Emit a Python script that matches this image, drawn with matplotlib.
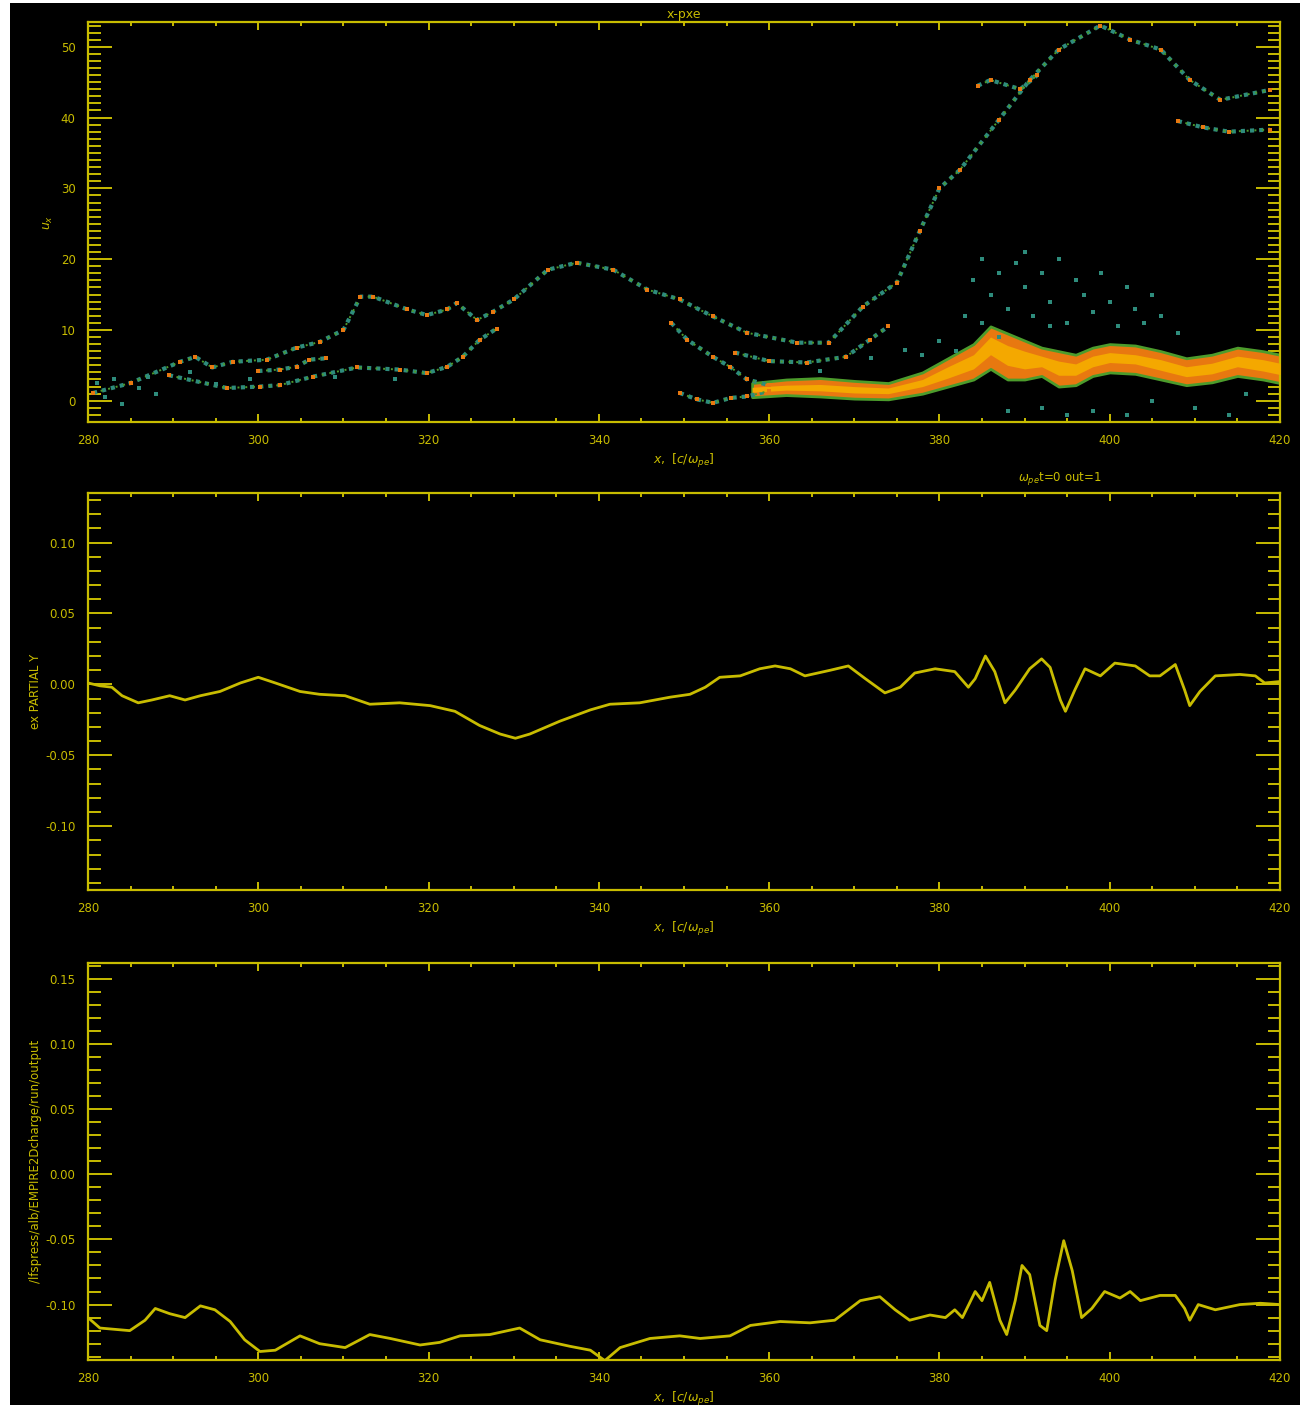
import numpy as np
import matplotlib.pyplot as plt
from matplotlib.patches import Rectangle
from matplotlib.ticker import MultipleLocator

plt.rc('font', family='DejaVu Sans', size=9)

YEL = '#c8bc00'
TEAL = '#2e8c7c'
GRN = '#4c9c2c'
ORG = '#e87810'
GOLD = '#f4a800'

# phase space x - pxe : particle tracks (x, u)
track_main = [(280.6, 1.1), (285, 2.5), (290.8, 5.5), (292.6, 6.2), (294.6, 4.7), (297, 5.5),
              (301, 5.8), (304.5, 7.5), (307.2, 8.3), (310, 10), (312, 14.7), (313.5, 14.7),
              (317.5, 12.9), (319.8, 12.1), (322.2, 12.9), (323.3, 13.8), (325.7, 11.4),
              (327.6, 12.6), (330, 14.3), (334, 18.5), (337.4, 19.5), (341.7, 18.5),
              (345.7, 15.7), (349.5, 14.3), (353.4, 11.9), (357.4, 9.6), (363.3, 8.2),
              (367, 8.2), (371, 13.3), (375, 16.7), (377.7, 24), (380, 30), (382.4, 32.6),
              (387, 39.7), (390.6, 45.3), (394, 49.6), (398.9, 53), (402.4, 51),
              (406, 49.6), (409.4, 45.3), (413, 42.5), (418.8, 43.9)]
track_low = [(289.5, 3.6), (296.3, 1.8), (300.2, 2.0), (302.5, 2.2), (306.4, 3.4),
             (311.6, 4.7), (316.6, 4.4), (319.8, 3.9), (322.2, 4.8), (324, 6.2),
             (326, 8.6), (328, 10.2)]
track_mid = [(300, 4.2), (302.5, 4.4), (304.5, 4.8), (306, 5.8), (308, 6.0)]
track_fall = [(348.5, 11), (350.4, 8.6), (353.4, 6.2), (355.4, 4.8), (357.4, 3.0), (360, 2.2)]
track_inner = [(356, 6.8), (360, 5.6), (364.4, 5.4), (369, 6.2), (371.8, 8.6), (374, 10.5)]
track_base = [(349.5, 1.1), (351.5, 0.2), (353.4, -0.3), (355.5, 0.4), (357.4, 0.6), (360, 1.4)]
track_upper = [(408, 39.5), (411, 38.6), (414, 38.0), (418.8, 38.3)]
track_side = [(384.5, 44.5), (386, 45.3), (389.5, 44.0), (391.5, 46.0)]

# dense electron band
band_x = [358, 362, 366, 370, 374, 378, 381, 384, 386, 388, 390, 392, 394, 396, 398, 400,
          403, 406, 409, 412, 415, 418, 420]
band_lo = [0.5, 0.8, 0.6, 0.3, 0.2, 1.0, 2.0, 3.0, 4.5, 3.0, 3.0, 3.5, 2.0, 2.2, 3.5, 4.0,
           3.8, 3.0, 2.2, 2.6, 3.5, 3.0, 2.5]
band_hi = [2.5, 3.0, 3.2, 2.8, 2.5, 4.0, 6.0, 8.0, 10.5, 9.5, 8.5, 7.5, 7.0, 6.5, 7.5, 8.0,
           7.8, 7.0, 6.0, 6.5, 7.5, 7.0, 6.5]
core_lo = [1.2, 1.5, 1.4, 1.1, 1.0, 2.0, 3.2, 4.5, 6.5, 5.0, 4.5, 4.8, 3.6, 3.6, 4.8, 5.4,
           5.2, 4.3, 3.4, 3.8, 4.8, 4.2, 3.7]
core_hi = [1.9, 2.2, 2.3, 2.0, 1.8, 3.0, 4.8, 6.5, 9.0, 7.8, 7.0, 6.3, 5.6, 5.2, 6.3, 6.8,
           6.5, 5.8, 4.8, 5.3, 6.3, 5.8, 5.3]

# scattered particles
halo_x = [384, 385, 386, 387, 388, 389, 390, 391, 392, 393, 394, 395, 396, 397, 398, 399,
          400, 401, 402, 403, 404, 405, 406, 408, 383, 385, 390, 393, 387, 382, 380, 378,
          388, 392, 395, 398, 402, 405, 410, 414, 416, 281, 282, 283, 284, 286, 287, 288,
          292, 295, 299, 309, 316, 366, 372, 376]
halo_u = [17, 20, 15, 18, 13, 19.5, 16, 12, 18, 14, 20, 11, 17, 15, 12.5, 18, 14, 10.5, 16,
          13, 11, 15, 12, 9.5, 12, 11, 21, 10.5, 9, 7, 8.5, 6.5, -1.5, -1, -2, -1.5, -2, 0,
          -1, -2, 1, 2.5, 0.5, 3.0, -0.5, 1.8, 3.3, 1.0, 4.0, 2.4, 3.0, 3.3, 3.1, 4.2, 6.0,
          7.2]

# ex PARTIAL Y
ex_x = [280, 281.4, 282.8, 284, 285.9, 287.5, 289.6, 291.4, 293.2, 295.5, 297.9, 300, 302,
        304.9, 307.2, 310.2, 313.1, 316.6, 320.2, 323.1, 326, 328.4, 330.2, 331.9, 335.4,
        339, 341.3, 344.8, 348.4, 350.7, 352.5, 354.2, 356.6, 358.9, 360.7, 362.5, 364.2,
        367.2, 369.3, 371.3, 373.6, 375.4, 377.1, 379.5, 381.8, 383.4, 384.2, 385.4, 386.5,
        387.7, 388.9, 390.6, 392, 393, 394.2, 394.8, 395.9, 397.1, 398.9, 400.6, 403, 404.7,
        405.9, 407.7, 408.8, 409.4, 410.6, 412.4, 415.3, 417.1, 418.2, 420]
ex_y = [0.001, -0.001, -0.002, -0.008, -0.013, -0.011, -0.008, -0.011, -0.008, -0.005,
        0.001, 0.005, 0.001, -0.005, -0.007, -0.008, -0.014, -0.013, -0.015, -0.019, -0.029,
        -0.035, -0.038, -0.035, -0.026, -0.018, -0.014, -0.013, -0.009, -0.007, -0.002,
        0.005, 0.006, 0.011, 0.013, 0.011, 0.006, 0.010, 0.013, 0.004, -0.006, -0.002, 0.008,
        0.011, 0.009, -0.002, 0.004, 0.020, 0.009, -0.013, -0.004, 0.011, 0.018, 0.012,
        -0.011, -0.019, -0.004, 0.011, 0.006, 0.015, 0.013, 0.006, 0.006, 0.014, -0.004,
        -0.015, -0.005, 0.006, 0.007, 0.006, 0.001, 0.002]

# charge output trace
ch_x = [280, 281.4, 284.9, 286.7, 287.9, 289.6, 291.4, 293.2, 294.9, 296.7, 298.4, 300.2,
        302, 304.9, 307.2, 310.2, 313.1, 315.5, 319, 321.3, 323.7, 327.2, 330.7, 333.1,
        336.6, 339, 340.7, 342.5, 346, 349.5, 351.9, 355.4, 357.8, 361.3, 364.8, 367.7,
        370.7, 373, 374.8, 376.5, 378.9, 380.7, 381.8, 382.7, 384.2, 385, 385.9, 387.1,
        387.9, 388.9, 389.7, 390.6, 391.8, 392.6, 393.6, 394.6, 395.6, 396.7, 397.9, 399.4,
        401.2, 402.4, 403.6, 405.9, 407.7, 408.8, 409.4, 410.4, 412.4, 415.3, 417.7, 420]
ch_y = [-0.110, -0.118, -0.120, -0.112, -0.103, -0.107, -0.110, -0.101, -0.104, -0.113,
        -0.127, -0.136, -0.135, -0.124, -0.130, -0.133, -0.123, -0.126, -0.131, -0.129,
        -0.124, -0.123, -0.118, -0.127, -0.132, -0.135, -0.143, -0.133, -0.126, -0.124,
        -0.126, -0.124, -0.116, -0.113, -0.114, -0.112, -0.097, -0.094, -0.104, -0.112,
        -0.108, -0.110, -0.104, -0.110, -0.090, -0.097, -0.083, -0.112, -0.123, -0.097,
        -0.070, -0.077, -0.116, -0.120, -0.081, -0.051, -0.074, -0.110, -0.103, -0.090,
        -0.095, -0.090, -0.097, -0.093, -0.093, -0.103, -0.112, -0.100, -0.104, -0.100,
        -0.099, -0.100]

XLABEL = r'$x,\ [c/\omega_{pe}]$'

fig = plt.figure(figsize=(13.01, 14.08), dpi=100)
fig.patch.set_facecolor('white')
fig.add_artist(Rectangle((10 / 1301, 0.002), 1290 / 1301, 0.996,
                         transform=fig.transFigure, facecolor='black', zorder=-10))

left, width = 88 / 1301, 1192 / 1301
ax1 = fig.add_axes([left, 0.7003, width, 0.2841])
ax2 = fig.add_axes([left, 0.3679, width, 0.2820])
ax3 = fig.add_axes([left, 0.0341, width, 0.2820])


def idl_axes(ax, ymajor, yminor):
    ax.set_facecolor('black')
    for s in ax.spines.values():
        s.set_color(YEL)
        s.set_linewidth(1.6)
    ax.set_xlim(280, 420)
    ax.xaxis.set_major_locator(MultipleLocator(20))
    ax.xaxis.set_minor_locator(MultipleLocator(5))
    ax.yaxis.set_major_locator(MultipleLocator(ymajor))
    ax.yaxis.set_minor_locator(MultipleLocator(yminor))
    ax.tick_params(axis='both', which='both', direction='in', colors=YEL,
                   top=True, right=True, width=1.4, labelsize=8.5, pad=9)
    ax.tick_params(axis='y', which='major', length=17)
    ax.tick_params(axis='y', which='minor', length=9)
    ax.tick_params(axis='x', which='major', length=6)
    ax.tick_params(axis='x', which='minor', length=3)
    ax.set_xlabel(XLABEL, color=YEL, fontsize=9, labelpad=3)


# top panel: phase space
idl_axes(ax1, 10, 1)
ax1.set_ylim(-3, 53.5)
ax1.fill_between(band_x, band_lo, band_hi, color=ORG, edgecolor=GRN, linewidth=2.0, zorder=2)
ax1.fill_between(band_x, core_lo, core_hi, color=GOLD, linewidth=0, zorder=3)
for tr in [track_main, track_low, track_mid, track_fall, track_inner, track_base,
           track_upper, track_side]:
    tx, tu = zip(*tr)
    ax1.plot(tx, tu, color=TEAL, lw=3.0, ls=(0, (1.0, 1.2)), zorder=2)
    ax1.plot(tx, tu, color=GRN, lw=1.4, ls=(0, (1.0, 3.0)), zorder=3)
    ax1.scatter(tx, tu, s=12, marker='s', color=ORG, linewidths=0, zorder=4)
ax1.scatter(halo_x, halo_u, s=9, marker='s', color=TEAL, linewidths=0, zorder=4)
ax1.set_title('x-pxe', color=YEL, fontsize=9, pad=3)
ax1.set_ylabel(r'$u_{x}$', color=YEL, fontsize=9, labelpad=4)

# middle panel
idl_axes(ax2, 0.05, 0.01)
ax2.set_ylim(-0.145, 0.135)
ax2.plot(ex_x, ex_y, color=YEL, lw=2.0, solid_joinstyle='round')
ax2.set_ylabel('ex PARTIAL Y', color=YEL, fontsize=8.5, labelpad=2)
ax2.text(0.815, 1.015, r'$\omega_{pe}$t=0 out=1', transform=ax2.transAxes,
         color=YEL, fontsize=8.5, ha='center', va='bottom')

# bottom panel
idl_axes(ax3, 0.05, 0.01)
ax3.set_ylim(-0.1425, 0.162)
ax3.plot(ch_x, ch_y, color=YEL, lw=2.0, solid_joinstyle='round')
ax3.set_ylabel('/lfspress/alb/EMPIRE2Dcharge/run/output', color=YEL, fontsize=8.5,
               labelpad=2)

for ax in (ax2, ax3):
    ax.yaxis.set_major_formatter(plt.FuncFormatter(lambda v, p: f'{v:.2f}'.replace('-0.00', '0.00')))
ax1.yaxis.set_major_formatter(plt.FuncFormatter(lambda v, p: f'{v:.0f}'))

fig.savefig('out.png', dpi=100, facecolor=fig.get_facecolor())
